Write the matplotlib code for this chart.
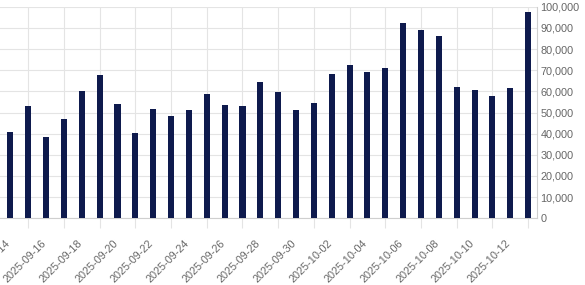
import numpy as np
import pandas as pd
import matplotlib
matplotlib.use("Agg")
import matplotlib.pyplot as plt
import matplotlib.ticker as mticker
from matplotlib.transforms import ScaledTranslation

# daily values (2025-09-15 .. 2025-10-14)
dates = pd.date_range("2025-09-15", "2025-10-14", freq="D")
values = [40600, 53200, 38300, 46800, 60200, 67600, 54200, 40200, 51700, 48200,
          51000, 58600, 53500, 53100, 64300, 59700, 51300, 54500, 68300, 72400,
          69300, 70900, 92100, 88800, 86300, 61900, 60500, 57800, 61600, 97300]
tick_dates = pd.date_range("2025-09-14", "2025-10-14", freq="2D")
tick_labels = [d.strftime("%Y-%m-%d") for d in tick_dates]
tick_labels[-1] = ""   # last label not drawn in the original
y_ticks = np.arange(0, 100001, 10000)

bar_col = "#0e1a4d"
grid_col = "#e4e4e4"
txt_col = "#666666"

plt.rcParams["font.family"] = ["Liberation Sans", "DejaVu Sans"]

fig = plt.figure(figsize=(5.85, 2.85), dpi=100)
ax = fig.add_axes([-0.028, 0.234, 0.946, 0.7425])

ax.bar(dates, values, width=0.34, color=bar_col, zorder=3)

ax.set_xlim(pd.Timestamp("2025-09-13 12:00"), pd.Timestamp("2025-10-14 12:00"))
ax.set_ylim(0, 100000)

ax.yaxis.tick_right()
ax.set_yticks(y_ticks)
ax.yaxis.set_major_formatter(mticker.StrMethodFormatter("{x:,.0f}"))
ax.tick_params(axis="y", length=0, pad=2.5, labelsize=7.8, labelcolor=txt_col)

ax.set_xticks(tick_dates)
ax.set_xticklabels(tick_labels, rotation=45, ha="right", va="center",
                   rotation_mode="anchor")
ax.tick_params(axis="x", length=7, width=0.8, color=grid_col, pad=0,
               labelsize=7.8, labelcolor=txt_col)
shift = ScaledTranslation(0.165, -0.14, fig.dpi_scale_trans)
for lab in ax.get_xticklabels():
    lab.set_transform(lab.get_transform() + shift)

ax.grid(True, color=grid_col, linewidth=0.8, zorder=0)
for side in ["top", "left"]:
    ax.spines[side].set_visible(False)
ax.spines["bottom"].set_color("#cfcfcf")
ax.spines["right"].set_color("#cfcfcf")
ax.spines["bottom"].set_linewidth(0.8)
ax.spines["right"].set_linewidth(0.8)

fig.savefig("out.png", dpi=100)
